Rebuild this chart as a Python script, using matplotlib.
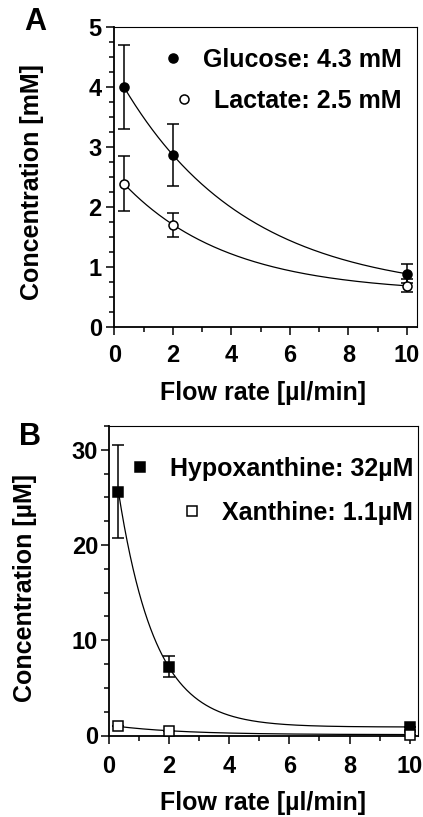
import numpy as np
import matplotlib
matplotlib.use("Agg")
import matplotlib.pyplot as plt
from matplotlib.ticker import MultipleLocator

plt.rcParams['font.family'] = ['Liberation Sans', 'DejaVu Sans']
plt.rcParams['font.weight'] = 'bold'

# data
flow = [0.33, 2, 10]

glucose = [4.0, 2.87, 0.89]
glucose_err = [0.70, 0.52, 0.16]
lactate = [2.39, 1.71, 0.69]
lactate_err = [0.46, 0.20, 0.11]

hypoxanthine = [25.6, 7.2, 0.9]
hypoxanthine_err = [4.9, 1.1, 0.0]
xanthine = [0.95, 0.5, 0.1]
xanthine_err = [0.0, 0.0, 0.0]

labels_a = ['Glucose: 4.3 mM', 'Lactate: 2.5 mM']
labels_b = ['Hypoxanthine: 32µM', 'Xanthine: 1.1µM']


def fit_decay(x, y):
    # y = plateau + span * exp(-k x), grid over k, linear least squares for the rest
    x = np.asarray(x, float)
    y = np.asarray(y, float)
    best = None
    for k in np.linspace(0.02, 3.0, 6000):
        A = np.column_stack([np.ones_like(x), np.exp(-k * x)])
        coef = np.linalg.lstsq(A, y, rcond=None)[0]
        r = np.sum((A @ coef - y) ** 2)
        if best is None or r < best[0]:
            best = (r, k, coef)
    _, k, coef = best
    xs = np.linspace(x.min(), x.max(), 300)
    return xs, coef[0] + coef[1] * np.exp(-k * xs)


def style_axes(ax):
    ax.tick_params(which='both', direction='out', labelsize=17, width=1.1,
                   top=False, right=False)
    ax.tick_params(which='major', length=6)
    ax.tick_params(which='minor', length=3.5)
    ax.tick_params(axis='x', pad=6)
    ax.tick_params(axis='y', pad=3)
    ax.xaxis.set_major_locator(MultipleLocator(2))
    ax.xaxis.set_minor_locator(MultipleLocator(1))
    for s in ['left', 'bottom']:
        ax.spines[s].set_linewidth(1.3)
    for s in ['top', 'right']:
        ax.spines[s].set_linewidth(0.8)


def right_legend(ax, anchor, spacing):
    leg = ax.legend(loc='center right', bbox_to_anchor=anchor, frameon=False,
                    fontsize=18, handlelength=0.8, handletextpad=0.8,
                    labelspacing=spacing, borderpad=0, borderaxespad=0)
    for col in leg._legend_handle_box.get_children():
        col.align = 'right'
    return leg


fig = plt.figure(figsize=(4.23, 8.17), dpi=100)
W, H = 423, 817

# ---- panel A ----
axA = fig.add_axes([114.3 / W, 1 - 327.3 / H, (417 - 114.3) / W, (327.3 - 27) / H])
for vals, err, face, lab in [(glucose, glucose_err, 'black', labels_a[0]),
                             (lactate, lactate_err, 'white', labels_a[1])]:
    xs, ys = fit_decay(flow, vals)
    axA.plot(xs, ys, color='black', lw=0.9, zorder=2)
    axA.errorbar(flow, vals, yerr=err, fmt='none', ecolor='black', elinewidth=1.1,
                 capsize=4.5, capthick=1.1, zorder=3)
    axA.plot(flow, vals, 'o', ms=6.5, mfc=face, mec='black', mew=1.1, ls='none',
             label=lab, zorder=4)
axA.set_xlim(0, 10.34)
axA.set_ylim(0, 5)
axA.yaxis.set_major_locator(MultipleLocator(1))
axA.yaxis.set_minor_locator(MultipleLocator(0.25))
style_axes(axA)
axA.set_xlabel('Flow rate [µl/min]', fontsize=18, fontweight='bold', va='center')
axA.xaxis.set_label_coords(263 / W, 1 - 393 / H, transform=fig.transFigure)
axA.set_ylabel('Concentration [mM]', fontsize=18, fontweight='bold', va='center')
axA.yaxis.set_label_coords(32 / W, 1 - 182 / H, transform=fig.transFigure)
right_legend(axA, (0.95, 0.822), 0.68)
fig.text(35 / W, 1 - 22 / H, 'A', fontsize=22, fontweight='bold', ha='center', va='center')

# ---- panel B ----
axB = fig.add_axes([108.5 / W, 1 - 735.5 / H, (418 - 108.5) / W, (735.5 - 426) / H])
for vals, err, face, lab in [(hypoxanthine, hypoxanthine_err, 'black', labels_b[0]),
                             (xanthine, xanthine_err, 'white', labels_b[1])]:
    xs, ys = fit_decay(flow, vals)
    axB.plot(xs, ys, color='black', lw=0.9, zorder=2)
    axB.errorbar(flow, vals, yerr=err, fmt='none', ecolor='black', elinewidth=1.1,
                 capsize=4.5, capthick=1.1, zorder=3)
    axB.plot(flow, vals, 's', ms=6.5, mfc=face, mec='black', mew=1.1, ls='none',
             label=lab, zorder=4, clip_on=False)
axB.set_xlim(0, 10.27)
axB.set_ylim(0, 32.5)
axB.yaxis.set_major_locator(MultipleLocator(10))
axB.yaxis.set_minor_locator(MultipleLocator(2.5))
style_axes(axB)
axB.tick_params(axis='x', pad=8)
axB.tick_params(axis='y', pad=1.5)
axB.set_xlabel('Flow rate [µl/min]', fontsize=18, fontweight='bold', va='center')
axB.xaxis.set_label_coords(263 / W, 1 - 803 / H, transform=fig.transFigure)
axB.set_ylabel('Concentration [µM]', fontsize=18, fontweight='bold', va='center')
axB.yaxis.set_label_coords(25 / W, 1 - 588 / H, transform=fig.transFigure)
right_legend(axB, (0.984, 0.79), 0.8)
fig.text(30 / W, 1 - 437 / H, 'B', fontsize=22, fontweight='bold', ha='center', va='center')

fig.savefig('out.png', dpi=100)
